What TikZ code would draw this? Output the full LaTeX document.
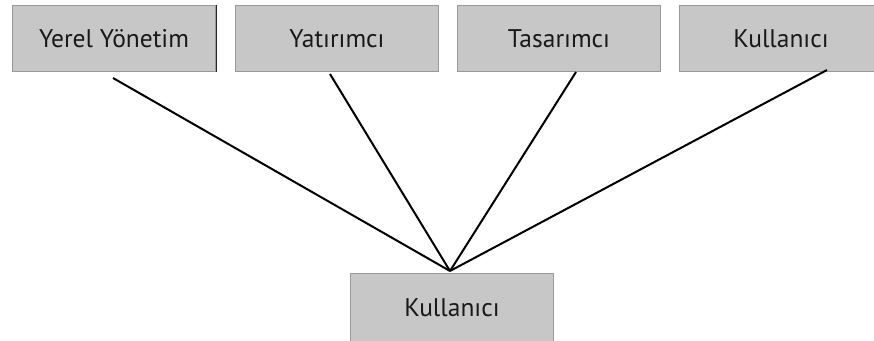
\documentclass[tikz,border=0pt]{standalone}
\usepackage{fontspec}
\setmainfont{PT Sans}
\begin{document}
\begin{tikzpicture}[x=1pt,y=-1pt,
  box/.style={draw=black!40,fill=black!22,line width=1pt,minimum width=203pt,minimum height=66pt,inner sep=0pt,font=\fontsize{25.5}{29}\selectfont,text=black!90,anchor=north west},
  link/.style={line width=2pt,black}]
\useasboundingbox (0,0) rectangle (874,340);
\node[box] (a) at (12,5) {Yerel Yönetim};
\node[box] (b) at (235,5) {Yatırımcı};
\node[box] (c) at (457,5) {Tasarımcı};
\node[box] (d) at (679,5) {Kullanıcı};
\node[box,minimum height=80pt] (e) at (350,273) {\raisebox{12pt}{Kullanıcı}};
\coordinate (p) at (450,271);
\coordinate (a1) at (113,78);
\coordinate (b1) at (330,74);
\coordinate (c1) at (576,72);
\coordinate (d1) at (827,70);
\draw[link] (a1) -- (p);
\draw[link] (b1) -- (p);
\draw[link] (c1) -- (p);
\draw[link] (d1) -- (p);
\draw[black!85,line width=1pt] (a.north east) -- (a.south east);
\end{tikzpicture}
\end{document}
